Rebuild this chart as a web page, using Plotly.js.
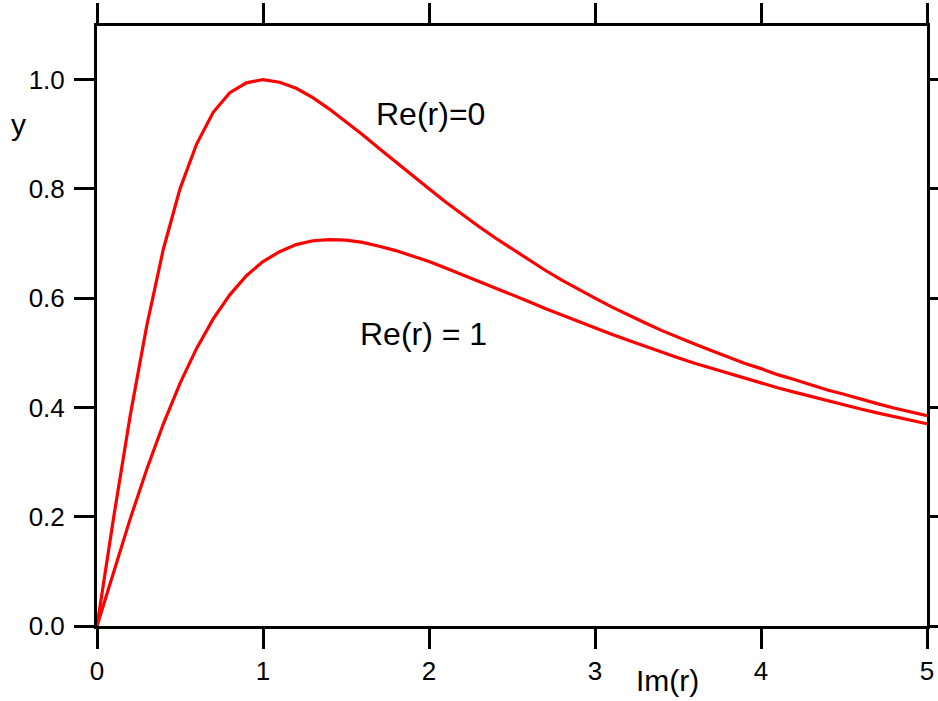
<!DOCTYPE html>
<html>
<head>
<meta charset="utf-8">
<script src="https://cdn.plot.ly/plotly-3.0.1.min.js"></script>
<style>html,body{margin:0;padding:0;background:#fff;}#chart{width:938px;height:701px;}</style>
</head>
<body>
<div id="chart"></div>
<script>
// Im(r) sample positions
const imR = [0,0.1,0.2,0.3,0.4,0.5,0.6,0.7,0.8,0.9,1.0,1.1,1.2,1.3,1.4,1.5,1.6,1.7,1.8,1.9,2.0,
  2.1,2.2,2.3,2.4,2.5,2.6,2.7,2.8,2.9,3.0,3.1,3.2,3.3,3.4,3.5,3.6,3.7,3.8,3.9,4.0,
  4.1,4.2,4.3,4.4,4.5,4.6,4.7,4.8,4.9,5.0];
// curve labelled Re(r)=0
const yRe0 = [0,0.198,0.385,0.550,0.690,0.800,0.882,0.940,0.976,0.994,1.000,0.995,0.984,0.967,0.946,0.923,
  0.899,0.874,0.849,0.824,0.800,0.776,0.753,0.731,0.710,0.690,0.670,0.651,0.633,0.616,0.600,
  0.584,0.569,0.555,0.541,0.528,0.516,0.504,0.492,0.481,0.471,0.460,0.451,0.441,0.432,0.424,
  0.415,0.407,0.399,0.392,0.385];
// curve labelled Re(r) = 1
const yRe1 = [0,0.100,0.196,0.287,0.370,0.444,0.508,0.562,0.606,0.641,0.667,0.685,0.698,0.705,0.707,0.706,
  0.702,0.695,0.687,0.677,0.667,0.655,0.643,0.631,0.619,0.606,0.594,0.581,0.569,0.557,0.545,
  0.534,0.523,0.512,0.501,0.491,0.481,0.472,0.462,0.453,0.444,0.436,0.428,0.420,0.412,0.404,
  0.397,0.390,0.383,0.377,0.370];
const xTicks = [0,1,2,3,4,5];
const yTicks = [0.0,0.2,0.4,0.6,0.8,1.0];
const curveLabels = ["Re(r)=0", "Re(r) = 1"];

const lineStyle = {color:'#ff0000', width:3.2};
const traces = [
  {x: imR, y: yRe0, mode:'lines', line: lineStyle, name: curveLabels[0], hoverinfo:'skip'},
  {x: imR, y: yRe1, mode:'lines', line: lineStyle, name: curveLabels[1], hoverinfo:'skip'}
];
const font = {family:'"Liberation Sans", Arial, sans-serif', color:'#000'};
const axisCommon = {
  showgrid:false, zeroline:false, showline:true, linecolor:'#000', linewidth:3,
  mirror:'ticks', ticks:'outside', ticklen:20, tickwidth:3, tickcolor:'#000',
  tickfont:Object.assign({size:26}, font)
};
const layout = {
  width:938, height:701,
  margin:{l:97, r:11, t:26, b:75, pad:0},
  paper_bgcolor:'#fff', plot_bgcolor:'#fff',
  showlegend:false,
  xaxis: Object.assign({}, axisCommon, {range:[0,5], tickvals:xTicks, ticktext:xTicks.map(String), ticklabelstandoff:0}),
  yaxis: Object.assign({}, axisCommon, {range:[0,1.098], tickvals:yTicks, ticktext:yTicks.map(v=>v.toFixed(1)), ticklabelstandoff:4}),
  annotations:[
    {text:curveLabels[0], x:2.006, y:0.937, xref:'x', yref:'y', showarrow:false, xanchor:'center', yanchor:'middle', font:Object.assign({size:32}, font)},
    {text:curveLabels[1], x:1.967, y:0.534, xref:'x', yref:'y', showarrow:false, xanchor:'center', yanchor:'middle', font:Object.assign({size:32}, font)},
    {text:'Im(r)', x:3.434, y:-0.091, xref:'x', yref:'paper', showarrow:false, xanchor:'center', yanchor:'middle', font:Object.assign({size:30}, font)},
    {text:'y', x:-0.0946, y:0.918, xref:'paper', yref:'y', showarrow:false, xanchor:'center', yanchor:'middle', font:Object.assign({size:30}, font)}
  ]
};
Plotly.newPlot('chart', traces, layout, {displayModeBar:false, staticPlot:true});
</script>
</body>
</html>
